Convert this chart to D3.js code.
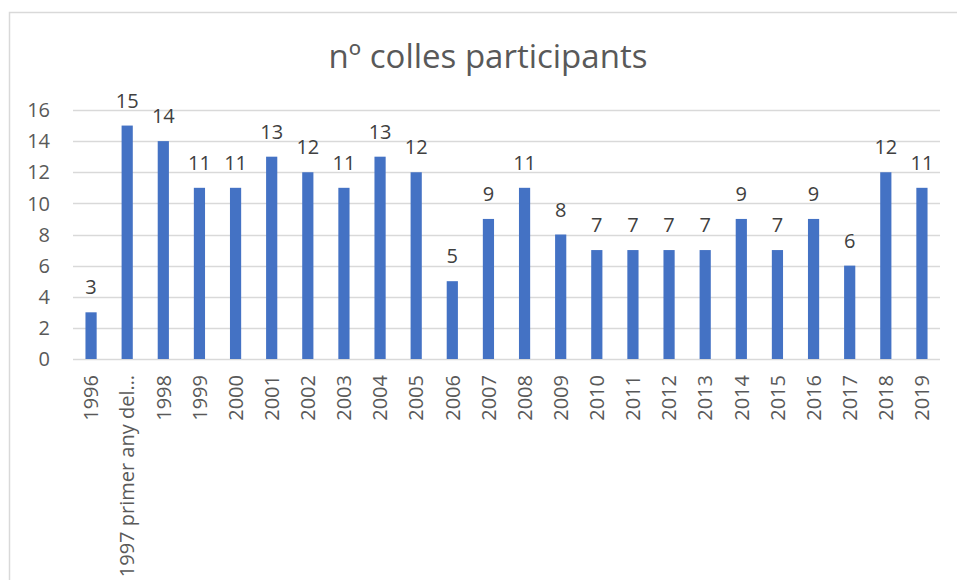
<!DOCTYPE html>
<meta charset="UTF-8">
<script src="https://d3js.org/d3.v7.min.js"></script>
<style>
  body { margin: 0; background: #fff; }
  text { font-family: "Open Sans", "Noto Sans", sans-serif; }
</style>
<body>
<div id="chart"></div>
<script>
// data
var years = ["1996", "1997 primer any del…", "1998", "1999", "2000", "2001", "2002", "2003",
  "2004", "2005", "2006", "2007", "2008", "2009", "2010", "2011", "2012", "2013",
  "2014", "2015", "2016", "2017", "2018", "2019"];
var colles = [3, 15, 14, 11, 11, 13, 12, 11, 13, 12, 5, 9, 11, 8, 7, 7, 7, 7, 9, 7, 9, 6, 12, 11];
var yTicks = [0, 2, 4, 6, 8, 10, 12, 14, 16];
var title = "nº colles participants";

var W = 957, H = 580;
var plotLeft = 73, plotRight = 940, plotTop = 110, plotBottom = 359;

var svg = d3.select("#chart").append("svg")
  .attr("width", W).attr("height", H);

// chart frame
svg.append("path")
  .attr("d", "M9.5," + H + "V12.5H" + W)
  .attr("fill", "none").attr("stroke", "#d9d9d9").attr("stroke-width", 1.5);

svg.append("text")
  .attr("x", 488).attr("y", 68)
  .attr("text-anchor", "middle")
  .attr("font-size", 33)
  .attr("fill", "#595959")
  .text(title);

var x = d3.scaleBand().domain(years).range([plotLeft, plotRight]).paddingInner(0.69).paddingOuter(0.345);
var y = d3.scaleLinear().domain([0, 16]).range([plotBottom, plotTop]);

// gridlines
svg.append("g").selectAll("line")
  .data(yTicks).enter().append("line")
    .attr("x1", plotLeft).attr("x2", plotRight)
    .attr("y1", function(d) { return Math.round(y(d)) + 0.5; })
    .attr("y2", function(d) { return Math.round(y(d)) + 0.5; })
    .attr("stroke", "#d9d9d9").attr("stroke-width", 1.3);

// y tick labels
svg.append("g").selectAll("text")
  .data(yTicks).enter().append("text")
    .attr("x", 50).attr("y", function(d) { return y(d); })
    .attr("dy", "0.36em")
    .attr("text-anchor", "end")
    .attr("font-size", 20)
    .attr("fill", "#595959")
    .text(function(d) { return d; });

// bars
svg.append("g").selectAll("rect")
  .data(colles).enter().append("rect")
    .attr("x", function(d, i) { return x(years[i]); })
    .attr("y", function(d) { return y(d); })
    .attr("width", x.bandwidth())
    .attr("height", function(d) { return y(0) - y(d); })
    .attr("fill", "#4472c4");

// value labels
svg.append("g").selectAll("text")
  .data(colles).enter().append("text")
    .attr("x", function(d, i) { return x(years[i]) + x.bandwidth() / 2; })
    .attr("y", function(d) { return y(d) - 18; })
    .attr("text-anchor", "middle")
    .attr("font-size", 20)
    .attr("fill", "#404040")
    .text(function(d) { return d; });

// x labels, rotated
svg.append("g").selectAll("text")
  .data(years).enter().append("text")
    .attr("transform", function(d) {
      return "translate(" + (x(d) + x.bandwidth() / 2) + ",375) rotate(-90)";
    })
    .attr("dy", "0.36em")
    .attr("text-anchor", "end")
    .attr("font-size", 20)
    .attr("fill", "#595959")
    .text(function(d) { return d; });
</script>
</body>
